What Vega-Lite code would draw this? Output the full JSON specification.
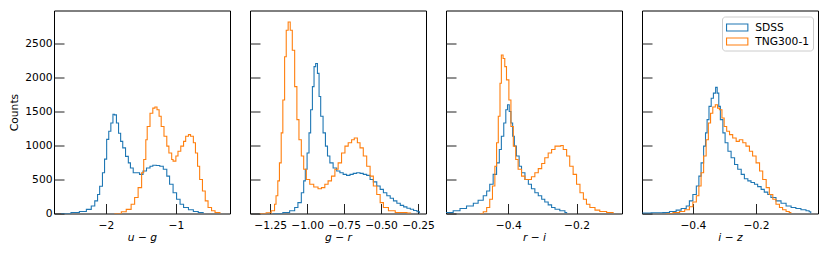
{
  "$schema": "https://vega.github.io/schema/vega-lite/v6.json",
  "padding": {"left": 8, "top": 9.5, "right": 5, "bottom": 5},
  "background": "white",
  "spacing": 20,
  "bounds": "flush",
  "datasets": {
    "p1": [
      {"s":"SDSS","x":-2.64,"c":0},{"s":"SDSS","x":-2.50,"c":15},{"s":"SDSS","x":-2.38,"c":30},{"s":"SDSS","x":-2.28,"c":60},{"s":"SDSS","x":-2.21,"c":110},{"s":"SDSS","x":-2.16,"c":185},{"s":"SDSS","x":-2.12,"c":280},{"s":"SDSS","x":-2.09,"c":400},{"s":"SDSS","x":-2.05,"c":600},{"s":"SDSS","x":-2.02,"c":800},{"s":"SDSS","x":-1.99,"c":1090},{"s":"SDSS","x":-1.96,"c":1210},{"s":"SDSS","x":-1.93,"c":1330},{"s":"SDSS","x":-1.90,"c":1460},{"s":"SDSS","x":-1.88,"c":1450},{"s":"SDSS","x":-1.85,"c":1330},{"s":"SDSS","x":-1.82,"c":1180},{"s":"SDSS","x":-1.79,"c":1060},{"s":"SDSS","x":-1.76,"c":965},{"s":"SDSS","x":-1.72,"c":840},{"s":"SDSS","x":-1.68,"c":745},{"s":"SDSS","x":-1.65,"c":670},{"s":"SDSS","x":-1.61,"c":600},{"s":"SDSS","x":-1.56,"c":600},{"s":"SDSS","x":-1.52,"c":575},{"s":"SDSS","x":-1.47,"c":625},{"s":"SDSS","x":-1.42,"c":670},{"s":"SDSS","x":-1.37,"c":695},{"s":"SDSS","x":-1.33,"c":710},{"s":"SDSS","x":-1.28,"c":705},{"s":"SDSS","x":-1.23,"c":695},{"s":"SDSS","x":-1.18,"c":650},{"s":"SDSS","x":-1.13,"c":550},{"s":"SDSS","x":-1.09,"c":430},{"s":"SDSS","x":-1.04,"c":305},{"s":"SDSS","x":-0.99,"c":210},{"s":"SDSS","x":-0.94,"c":135},{"s":"SDSS","x":-0.89,"c":88},{"s":"SDSS","x":-0.82,"c":55},{"s":"SDSS","x":-0.75,"c":30},{"s":"SDSS","x":-0.68,"c":15},{"s":"SDSS","x":-0.61,"c":0},
      {"s":"TNG300-1","x":-1.88,"c":0},{"s":"TNG300-1","x":-1.78,"c":25},{"s":"TNG300-1","x":-1.71,"c":60},{"s":"TNG300-1","x":-1.64,"c":135},{"s":"TNG300-1","x":-1.59,"c":235},{"s":"TNG300-1","x":-1.54,"c":380},{"s":"TNG300-1","x":-1.49,"c":600},{"s":"TNG300-1","x":-1.46,"c":795},{"s":"TNG300-1","x":-1.43,"c":1085},{"s":"TNG300-1","x":-1.41,"c":1280},{"s":"TNG300-1","x":-1.37,"c":1475},{"s":"TNG300-1","x":-1.33,"c":1550},{"s":"TNG300-1","x":-1.30,"c":1565},{"s":"TNG300-1","x":-1.27,"c":1525},{"s":"TNG300-1","x":-1.24,"c":1430},{"s":"TNG300-1","x":-1.21,"c":1280},{"s":"TNG300-1","x":-1.17,"c":1135},{"s":"TNG300-1","x":-1.13,"c":990},{"s":"TNG300-1","x":-1.10,"c":890},{"s":"TNG300-1","x":-1.06,"c":795},{"s":"TNG300-1","x":-1.04,"c":770},{"s":"TNG300-1","x":-1.00,"c":845},{"s":"TNG300-1","x":-0.97,"c":915},{"s":"TNG300-1","x":-0.93,"c":990},{"s":"TNG300-1","x":-0.89,"c":1060},{"s":"TNG300-1","x":-0.86,"c":1135},{"s":"TNG300-1","x":-0.82,"c":1160},{"s":"TNG300-1","x":-0.79,"c":1135},{"s":"TNG300-1","x":-0.75,"c":1040},{"s":"TNG300-1","x":-0.72,"c":890},{"s":"TNG300-1","x":-0.69,"c":695},{"s":"TNG300-1","x":-0.66,"c":500},{"s":"TNG300-1","x":-0.62,"c":330},{"s":"TNG300-1","x":-0.58,"c":185},{"s":"TNG300-1","x":-0.54,"c":88},{"s":"TNG300-1","x":-0.49,"c":40},{"s":"TNG300-1","x":-0.44,"c":15},{"s":"TNG300-1","x":-0.37,"c":0}
    ],
    "p2": [
      {"s":"SDSS","x":-1.23,"c":0},{"s":"SDSS","x":-1.164,"c":15},{"s":"SDSS","x":-1.118,"c":40},{"s":"SDSS","x":-1.084,"c":88},{"s":"SDSS","x":-1.062,"c":160},{"s":"SDSS","x":-1.039,"c":305},{"s":"SDSS","x":-1.023,"c":480},{"s":"SDSS","x":-1.012,"c":650},{"s":"SDSS","x":-1.0,"c":890},{"s":"SDSS","x":-0.987,"c":1185},{"s":"SDSS","x":-0.976,"c":1525},{"s":"SDSS","x":-0.964,"c":1865},{"s":"SDSS","x":-0.953,"c":2160},{"s":"SDSS","x":-0.942,"c":2205},{"s":"SDSS","x":-0.93,"c":2060},{"s":"SDSS","x":-0.919,"c":1720},{"s":"SDSS","x":-0.908,"c":1430},{"s":"SDSS","x":-0.892,"c":1185},{"s":"SDSS","x":-0.876,"c":990},{"s":"SDSS","x":-0.862,"c":845},{"s":"SDSS","x":-0.846,"c":745},{"s":"SDSS","x":-0.824,"c":670},{"s":"SDSS","x":-0.80,"c":625},{"s":"SDSS","x":-0.778,"c":600},{"s":"SDSS","x":-0.756,"c":575},{"s":"SDSS","x":-0.733,"c":560},{"s":"SDSS","x":-0.71,"c":575},{"s":"SDSS","x":-0.688,"c":590},{"s":"SDSS","x":-0.665,"c":600},{"s":"SDSS","x":-0.642,"c":590},{"s":"SDSS","x":-0.62,"c":575},{"s":"SDSS","x":-0.597,"c":560},{"s":"SDSS","x":-0.574,"c":500},{"s":"SDSS","x":-0.552,"c":465},{"s":"SDSS","x":-0.529,"c":405},{"s":"SDSS","x":-0.506,"c":355},{"s":"SDSS","x":-0.484,"c":305},{"s":"SDSS","x":-0.461,"c":260},{"s":"SDSS","x":-0.438,"c":225},{"s":"SDSS","x":-0.416,"c":185},{"s":"SDSS","x":-0.393,"c":150},{"s":"SDSS","x":-0.37,"c":120},{"s":"SDSS","x":-0.347,"c":97},{"s":"SDSS","x":-0.325,"c":78},{"s":"SDSS","x":-0.302,"c":63},{"s":"SDSS","x":-0.28,"c":44},{"s":"SDSS","x":-0.257,"c":25},{"s":"SDSS","x":-0.24,"c":0},
      {"s":"TNG300-1","x":-1.32,"c":0},{"s":"TNG300-1","x":-1.277,"c":10},{"s":"TNG300-1","x":-1.243,"c":40},{"s":"TNG300-1","x":-1.22,"c":135},{"s":"TNG300-1","x":-1.21,"c":260},{"s":"TNG300-1","x":-1.198,"c":480},{"s":"TNG300-1","x":-1.187,"c":745},{"s":"TNG300-1","x":-1.175,"c":1185},{"s":"TNG300-1","x":-1.164,"c":1670},{"s":"TNG300-1","x":-1.152,"c":2305},{"s":"TNG300-1","x":-1.141,"c":2695},{"s":"TNG300-1","x":-1.128,"c":2815},{"s":"TNG300-1","x":-1.114,"c":2695},{"s":"TNG300-1","x":-1.10,"c":2400},{"s":"TNG300-1","x":-1.084,"c":1865},{"s":"TNG300-1","x":-1.069,"c":1380},{"s":"TNG300-1","x":-1.055,"c":1085},{"s":"TNG300-1","x":-1.039,"c":845},{"s":"TNG300-1","x":-1.023,"c":650},{"s":"TNG300-1","x":-1.005,"c":500},{"s":"TNG300-1","x":-0.982,"c":430},{"s":"TNG300-1","x":-0.955,"c":390},{"s":"TNG300-1","x":-0.926,"c":365},{"s":"TNG300-1","x":-0.903,"c":380},{"s":"TNG300-1","x":-0.88,"c":430},{"s":"TNG300-1","x":-0.858,"c":480},{"s":"TNG300-1","x":-0.835,"c":550},{"s":"TNG300-1","x":-0.812,"c":650},{"s":"TNG300-1","x":-0.79,"c":745},{"s":"TNG300-1","x":-0.767,"c":890},{"s":"TNG300-1","x":-0.744,"c":990},{"s":"TNG300-1","x":-0.722,"c":1040},{"s":"TNG300-1","x":-0.699,"c":1085},{"s":"TNG300-1","x":-0.681,"c":1110},{"s":"TNG300-1","x":-0.66,"c":1040},{"s":"TNG300-1","x":-0.642,"c":965},{"s":"TNG300-1","x":-0.62,"c":845},{"s":"TNG300-1","x":-0.597,"c":695},{"s":"TNG300-1","x":-0.574,"c":550},{"s":"TNG300-1","x":-0.552,"c":405},{"s":"TNG300-1","x":-0.529,"c":280},{"s":"TNG300-1","x":-0.506,"c":160},{"s":"TNG300-1","x":-0.484,"c":88},{"s":"TNG300-1","x":-0.45,"c":40},{"s":"TNG300-1","x":-0.404,"c":15},{"s":"TNG300-1","x":-0.325,"c":5},{"s":"TNG300-1","x":-0.30,"c":0}
    ],
    "p3": [
      {"s":"SDSS","x":-0.582,"c":15},{"s":"SDSS","x":-0.561,"c":40},{"s":"SDSS","x":-0.541,"c":73},{"s":"SDSS","x":-0.522,"c":110},{"s":"SDSS","x":-0.502,"c":150},{"s":"SDSS","x":-0.488,"c":195},{"s":"SDSS","x":-0.473,"c":260},{"s":"SDSS","x":-0.463,"c":330},{"s":"SDSS","x":-0.454,"c":430},{"s":"SDSS","x":-0.444,"c":575},{"s":"SDSS","x":-0.434,"c":745},{"s":"SDSS","x":-0.426,"c":940},{"s":"SDSS","x":-0.42,"c":1135},{"s":"SDSS","x":-0.413,"c":1330},{"s":"SDSS","x":-0.407,"c":1525},{"s":"SDSS","x":-0.402,"c":1600},{"s":"SDSS","x":-0.397,"c":1500},{"s":"SDSS","x":-0.392,"c":1330},{"s":"SDSS","x":-0.387,"c":1135},{"s":"SDSS","x":-0.382,"c":990},{"s":"SDSS","x":-0.376,"c":845},{"s":"SDSS","x":-0.368,"c":695},{"s":"SDSS","x":-0.361,"c":600},{"s":"SDSS","x":-0.351,"c":500},{"s":"SDSS","x":-0.341,"c":430},{"s":"SDSS","x":-0.332,"c":365},{"s":"SDSS","x":-0.322,"c":305},{"s":"SDSS","x":-0.312,"c":260},{"s":"SDSS","x":-0.302,"c":210},{"s":"SDSS","x":-0.293,"c":170},{"s":"SDSS","x":-0.283,"c":127},{"s":"SDSS","x":-0.273,"c":88},{"s":"SDSS","x":-0.263,"c":63},{"s":"SDSS","x":-0.249,"c":40},{"s":"SDSS","x":-0.234,"c":15},{"s":"SDSS","x":-0.229,"c":0},
      {"s":"TNG300-1","x":-0.483,"c":0},{"s":"TNG300-1","x":-0.473,"c":25},{"s":"TNG300-1","x":-0.463,"c":88},{"s":"TNG300-1","x":-0.454,"c":210},{"s":"TNG300-1","x":-0.446,"c":405},{"s":"TNG300-1","x":-0.439,"c":695},{"s":"TNG300-1","x":-0.434,"c":1040},{"s":"TNG300-1","x":-0.429,"c":1430},{"s":"TNG300-1","x":-0.424,"c":1915},{"s":"TNG300-1","x":-0.42,"c":2330},{"s":"TNG300-1","x":-0.415,"c":2280},{"s":"TNG300-1","x":-0.41,"c":2160},{"s":"TNG300-1","x":-0.405,"c":1965},{"s":"TNG300-1","x":-0.398,"c":1670},{"s":"TNG300-1","x":-0.392,"c":1280},{"s":"TNG300-1","x":-0.385,"c":990},{"s":"TNG300-1","x":-0.378,"c":795},{"s":"TNG300-1","x":-0.371,"c":650},{"s":"TNG300-1","x":-0.361,"c":550},{"s":"TNG300-1","x":-0.351,"c":500},{"s":"TNG300-1","x":-0.341,"c":500},{"s":"TNG300-1","x":-0.332,"c":540},{"s":"TNG300-1","x":-0.322,"c":600},{"s":"TNG300-1","x":-0.312,"c":660},{"s":"TNG300-1","x":-0.302,"c":735},{"s":"TNG300-1","x":-0.293,"c":820},{"s":"TNG300-1","x":-0.283,"c":890},{"s":"TNG300-1","x":-0.273,"c":940},{"s":"TNG300-1","x":-0.263,"c":990},{"s":"TNG300-1","x":-0.254,"c":990},{"s":"TNG300-1","x":-0.246,"c":1000},{"s":"TNG300-1","x":-0.239,"c":940},{"s":"TNG300-1","x":-0.229,"c":845},{"s":"TNG300-1","x":-0.22,"c":695},{"s":"TNG300-1","x":-0.21,"c":575},{"s":"TNG300-1","x":-0.20,"c":430},{"s":"TNG300-1","x":-0.19,"c":305},{"s":"TNG300-1","x":-0.18,"c":210},{"s":"TNG300-1","x":-0.171,"c":135},{"s":"TNG300-1","x":-0.161,"c":88},{"s":"TNG300-1","x":-0.146,"c":50},{"s":"TNG300-1","x":-0.132,"c":30},{"s":"TNG300-1","x":-0.112,"c":15},{"s":"TNG300-1","x":-0.093,"c":0}
    ],
    "p4": [
      {"s":"SDSS","x":-0.56,"c":5},{"s":"SDSS","x":-0.532,"c":10},{"s":"SDSS","x":-0.495,"c":15},{"s":"SDSS","x":-0.474,"c":30},{"s":"SDSS","x":-0.453,"c":50},{"s":"SDSS","x":-0.437,"c":73},{"s":"SDSS","x":-0.421,"c":110},{"s":"SDSS","x":-0.411,"c":185},{"s":"SDSS","x":-0.40,"c":280},{"s":"SDSS","x":-0.389,"c":405},{"s":"SDSS","x":-0.381,"c":550},{"s":"SDSS","x":-0.374,"c":745},{"s":"SDSS","x":-0.366,"c":990},{"s":"SDSS","x":-0.36,"c":1185},{"s":"SDSS","x":-0.355,"c":1380},{"s":"SDSS","x":-0.349,"c":1575},{"s":"SDSS","x":-0.342,"c":1695},{"s":"SDSS","x":-0.335,"c":1770},{"s":"SDSS","x":-0.328,"c":1855},{"s":"SDSS","x":-0.323,"c":1770},{"s":"SDSS","x":-0.318,"c":1575},{"s":"SDSS","x":-0.313,"c":1380},{"s":"SDSS","x":-0.305,"c":1185},{"s":"SDSS","x":-0.298,"c":1040},{"s":"SDSS","x":-0.289,"c":915},{"s":"SDSS","x":-0.279,"c":820},{"s":"SDSS","x":-0.268,"c":720},{"s":"SDSS","x":-0.258,"c":650},{"s":"SDSS","x":-0.247,"c":575},{"s":"SDSS","x":-0.237,"c":510},{"s":"SDSS","x":-0.226,"c":480},{"s":"SDSS","x":-0.216,"c":455},{"s":"SDSS","x":-0.205,"c":430},{"s":"SDSS","x":-0.195,"c":395},{"s":"SDSS","x":-0.184,"c":355},{"s":"SDSS","x":-0.174,"c":315},{"s":"SDSS","x":-0.163,"c":280},{"s":"SDSS","x":-0.153,"c":235},{"s":"SDSS","x":-0.137,"c":185},{"s":"SDSS","x":-0.121,"c":150},{"s":"SDSS","x":-0.105,"c":110},{"s":"SDSS","x":-0.089,"c":88},{"s":"SDSS","x":-0.074,"c":73},{"s":"SDSS","x":-0.058,"c":55},{"s":"SDSS","x":-0.042,"c":40},{"s":"SDSS","x":-0.032,"c":25},{"s":"SDSS","x":-0.027,"c":0},
      {"s":"TNG300-1","x":-0.484,"c":0},{"s":"TNG300-1","x":-0.463,"c":15},{"s":"TNG300-1","x":-0.442,"c":30},{"s":"TNG300-1","x":-0.426,"c":55},{"s":"TNG300-1","x":-0.411,"c":100},{"s":"TNG300-1","x":-0.40,"c":170},{"s":"TNG300-1","x":-0.389,"c":260},{"s":"TNG300-1","x":-0.381,"c":405},{"s":"TNG300-1","x":-0.374,"c":600},{"s":"TNG300-1","x":-0.366,"c":845},{"s":"TNG300-1","x":-0.358,"c":1085},{"s":"TNG300-1","x":-0.351,"c":1330},{"s":"TNG300-1","x":-0.344,"c":1475},{"s":"TNG300-1","x":-0.337,"c":1565},{"s":"TNG300-1","x":-0.329,"c":1600},{"s":"TNG300-1","x":-0.322,"c":1550},{"s":"TNG300-1","x":-0.316,"c":1525},{"s":"TNG300-1","x":-0.308,"c":1405},{"s":"TNG300-1","x":-0.301,"c":1280},{"s":"TNG300-1","x":-0.293,"c":1210},{"s":"TNG300-1","x":-0.284,"c":1160},{"s":"TNG300-1","x":-0.274,"c":1110},{"s":"TNG300-1","x":-0.263,"c":1060},{"s":"TNG300-1","x":-0.253,"c":1085},{"s":"TNG300-1","x":-0.242,"c":1040},{"s":"TNG300-1","x":-0.232,"c":990},{"s":"TNG300-1","x":-0.221,"c":915},{"s":"TNG300-1","x":-0.211,"c":845},{"s":"TNG300-1","x":-0.20,"c":745},{"s":"TNG300-1","x":-0.189,"c":625},{"s":"TNG300-1","x":-0.179,"c":500},{"s":"TNG300-1","x":-0.168,"c":380},{"s":"TNG300-1","x":-0.158,"c":280},{"s":"TNG300-1","x":-0.147,"c":210},{"s":"TNG300-1","x":-0.137,"c":135},{"s":"TNG300-1","x":-0.126,"c":88},{"s":"TNG300-1","x":-0.116,"c":55},{"s":"TNG300-1","x":-0.105,"c":30},{"s":"TNG300-1","x":-0.095,"c":15},{"s":"TNG300-1","x":-0.09,"c":0}
    ]
  },
  "resolve": {"legend": {"color": "independent"}},
  "hconcat": [
    {
      "width": 176, "height": 203,
      "data": {"name": "p1"},
      "mark": {"type": "line", "interpolate": "step-after", "strokeWidth": 1.1, "clip": true},
      "encoding": {
        "x": {"field": "x", "type": "quantitative", "scale": {"domain": [-2.743, -0.226], "nice": false, "zero": false}, "axis": {"values": [-2, -1], "format": "d", "title": "u − g"}},
        "y": {"field": "c", "type": "quantitative", "scale": {"domain": [0, 2985], "nice": false}, "axis": {"values": [0, 500, 1000, 1500, 2000, 2500], "format": "d", "title": "Counts"}},
        "color": {"field": "s", "type": "nominal", "scale": {"domain": ["SDSS", "TNG300-1"], "range": ["#1f77b4", "#ff7f0e"]}, "legend": null}
      }
    },
    {
      "width": 176, "height": 203,
      "data": {"name": "p2"},
      "mark": {"type": "line", "interpolate": "step-after", "strokeWidth": 1.1, "clip": true},
      "encoding": {
        "x": {"field": "x", "type": "quantitative", "scale": {"domain": [-1.386, -0.196], "nice": false, "zero": false}, "axis": {"values": [-1.25, -1.0, -0.75, -0.5, -0.25], "format": ".2f", "title": "g − r"}},
        "y": {"field": "c", "type": "quantitative", "scale": {"domain": [0, 2985], "nice": false}, "axis": {"values": [0, 500, 1000, 1500, 2000, 2500], "labels": false, "title": null}},
        "color": {"field": "s", "type": "nominal", "scale": {"domain": ["SDSS", "TNG300-1"], "range": ["#1f77b4", "#ff7f0e"]}, "legend": null}
      }
    },
    {
      "width": 176, "height": 203,
      "data": {"name": "p3"},
      "mark": {"type": "line", "interpolate": "step-after", "strokeWidth": 1.1, "clip": true},
      "encoding": {
        "x": {"field": "x", "type": "quantitative", "scale": {"domain": [-0.582, -0.067], "nice": false, "zero": false}, "axis": {"values": [-0.4, -0.2], "format": ".1f", "title": "r − i"}},
        "y": {"field": "c", "type": "quantitative", "scale": {"domain": [0, 2985], "nice": false}, "axis": {"values": [0, 500, 1000, 1500, 2000, 2500], "labels": false, "title": null}},
        "color": {"field": "s", "type": "nominal", "scale": {"domain": ["SDSS", "TNG300-1"], "range": ["#1f77b4", "#ff7f0e"]}, "legend": null}
      }
    },
    {
      "width": 176, "height": 203,
      "data": {"name": "p4"},
      "mark": {"type": "line", "interpolate": "step-after", "strokeWidth": 1.1, "clip": true},
      "encoding": {
        "x": {"field": "x", "type": "quantitative", "scale": {"domain": [-0.561, -0.004], "nice": false, "zero": false}, "axis": {"values": [-0.4, -0.2], "format": ".1f", "title": "i − z"}},
        "y": {"field": "c", "type": "quantitative", "scale": {"domain": [0, 2985], "nice": false}, "axis": {"values": [0, 500, 1000, 1500, 2000, 2500], "labels": false, "title": null}},
        "color": {"field": "s", "type": "nominal", "scale": {"domain": ["SDSS", "TNG300-1"], "range": ["#1f77b4", "#ff7f0e"]},
          "legend": {"title": null, "orient": "top-right", "offset": 5.5, "padding": 3, "fillColor": "white", "strokeColor": "#cccccc", "cornerRadius": 3,
            "symbolType": "M-1.5,-0.5L1.5,-0.5L1.5,0.5L-1.5,0.5Z", "symbolSize": 202, "symbolStrokeWidth": 1.1, "symbolFillColor": "transparent", "symbolOffset": 4.2,
            "labelOffset": 10, "labelFont": "DejaVu Sans", "labelFontSize": 10.7, "labelColor": "black", "rowPadding": 0}}
      }
    }
  ],
  "config": {
    "view": {"stroke": "black", "strokeWidth": 1},
    "axis": {"grid": false, "domain": false, "tickSize": -10, "tickColor": "#222222", "tickWidth": 1, "labelFont": "DejaVu Sans", "labelFontSize": 10.7, "labelColor": "black", "titleFont": "DejaVu Sans", "titleFontSize": 10.7, "titleFontWeight": "normal", "titleColor": "black"},
    "axisX": {"labelPadding": 17, "titleFontStyle": "italic", "titlePadding": 2, "labelFlush": false},
    "axisY": {"labelPadding": 12, "titlePadding": 5, "labelFlush": false}
  }
}
